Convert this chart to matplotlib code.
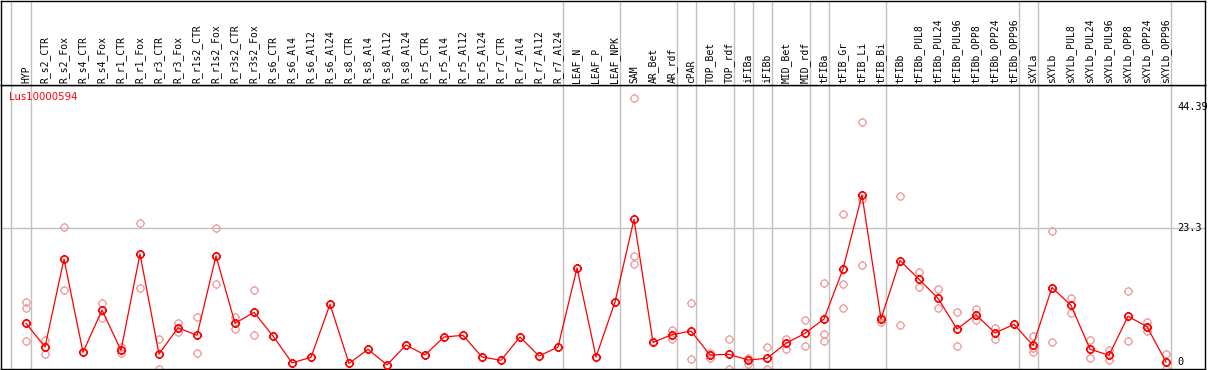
import numpy as np
import matplotlib
matplotlib.use("Agg")
import matplotlib.pyplot as plt
from matplotlib.path import Path

categories = ["HYP", "R_s2_CTR", "R_s2_Fox", "R_s4_CTR", "R_s4_Fox", "R_r1_CTR", "R_r1_Fox",
              "R_r3_CTR", "R_r3_Fox", "R_r1s2_CTR", "R_r1s2_Fox", "R_r3s2_CTR", "R_r3s2_Fox",
              "R_s6_CTR", "R_s6_Al4", "R_s6_Al12", "R_s6_Al24", "R_s8_CTR", "R_s8_Al4",
              "R_s8_Al12", "R_s8_Al24", "R_r5_CTR", "R_r5_Al4", "R_r5_Al12", "R_r5_Al24",
              "R_r7_CTR", "R_r7_Al4", "R_r7_Al12", "R_r7_Al24", "LEAF_N", "LEAF_P", "LEAF_NPK",
              "SAM", "AR_Bet", "AR_rdf", "cPAR", "TOP_Bet", "TOP_rdf", "iFIBa", "iFIBb",
              "MID_Bet", "MID_rdf", "tFIBa", "tFIB_Gr", "tFIB_Li", "tFIB_Bi", "tFIBb",
              "tFIBb_PUL8", "tFIBb_PUL24", "tFIBb_PUL96", "tFIBb_OPP8", "tFIBb_OPP24",
              "tFIBb_OPP96", "sXYLa", "sXYLb", "sXYLb_PUL8", "sXYLb_PUL24", "sXYLb_PUL96",
              "sXYLb_OPP8", "sXYLb_OPP24", "sXYLb_OPP96"]

main_values = [6.78, 2.66, 17.96, 1.74, 9.09, 2.09, 18.83, 1.44, 6.0, 4.7, 18.48, 6.78, 8.69,
               4.57, -0.1, 0.87, 10.08, -0.2, 2.26, -0.45, 3.0, 1.27, 4.4, 4.69, 0.92,
               0.35, 4.4, 1.1, 2.66, 16.4, 0.92, 10.49, 24.86, 3.47, 4.8, 5.44, 1.27, 1.39,
               0.4, 0.69, 3.3, 5.04, 7.53, 16.22, 29.1, 7.53, 17.7, 14.43, 11.13, 5.79, 8.28,
               5.1, 6.6, 2.95, 13.0, 9.9, 2.3, 1.21, 8.0, 6.19, 0.05]

nan = np.nan
rep1 = [10.5, 3.88, 23.47, nan, 10.3, 2.7, 24.3, 4.05, 6.9, 7.8, 23.3, 7.9, 12.5,
        nan, nan, nan, nan, nan, nan, nan, nan, nan, nan, nan, nan,
        nan, nan, nan, nan, nan, nan, nan, 45.9, nan, 5.67, 10.3, 1.67, 4.05,
        0.8, 2.6, 4.1, 7.36, 13.79, 25.7, 41.7, 6.95, 29.0, 15.65, 12.7, 8.69, 9.32,
        5.96, nan, 4.5, 22.78, 11.1, 3.88, 2.14, 12.34, 7.0, 1.39]
rep2 = [9.4, 1.44, 12.57, nan, 7.7, 1.6, 13.0, -1.2, 5.2, 1.56, 13.56, 5.84, 4.7,
        nan, nan, nan, nan, nan, nan, nan, nan, nan, nan, nan, nan,
        nan, nan, nan, nan, nan, nan, nan, 18.5, nan, 4.05, 0.57, 0.7, -1.2,
        -0.3, -1.2, 2.37, 2.83, 4.92, 13.56, 28.4, 7.9, 6.43, 13.1, 9.39, 2.83, 7.4,
        4.1, nan, 2.43, 3.47, 8.6, 0.7, 0.35, 3.65, 5.5, -1.1]
rep3 = [3.65, nan, nan, nan, nan, nan, nan, nan, nan, nan, nan, nan, nan,
        nan, nan, nan, nan, nan, nan, nan, nan, nan, nan, nan, nan,
        nan, nan, nan, nan, nan, nan, nan, 17.04, nan, nan, nan, nan, nan,
        nan, nan, nan, nan, 3.7, 9.39, 16.87, nan, nan, nan, nan, nan, nan,
        nan, nan, 1.85, nan, nan, nan, nan, nan, nan, nan]

y_ticks = [0, 23.3, 44.39]
y_tick_labels = ["0", "23.3", "44.39"]
gene_name = "Lus10000594"

# ---- layout (pixels) ----
W, H = 1209, 370
dpi = 100
left_px, right_px = 1, 1205
header_bottom_px = 85
bottom_px = 369
x0_px, dx_px = 26, 19
y0_px, py_per_unit = 362.3, 5.751

fig = plt.figure(figsize=(W / dpi, H / dpi), dpi=dpi)
ax = fig.add_axes([left_px / W, (H - bottom_px) / H, (right_px - left_px) / W,
                   (bottom_px - header_bottom_px) / H])
hax = fig.add_axes([left_px / W, (H - header_bottom_px) / H, (right_px - left_px) / W,
                    (header_bottom_px - 0.5) / H], sharex=ax)

xmin = (left_px - x0_px) / dx_px
xmax = (right_px - x0_px) / dx_px
ymin = (y0_px - bottom_px) / py_per_unit
ymax = (y0_px - header_bottom_px) / py_per_unit
ax.set_xlim(xmin, xmax)
ax.set_ylim(ymin, ymax)
hax.set_ylim(0, 1)

for a in (ax, hax):
    a.set_xticks([])
    a.set_yticks([])
    for s in a.spines.values():
        s.set_color("black")
        s.set_linewidth(1.0)

# separators
sep_positions = [-0.8, 0.25, 28.25, 31.25, 34.25, 35.25, 37.25, 38.25, 39.25, 41.25,
                 42.25, 45.25, 52.25, 53.25, 60.25]
for xp in sep_positions:
    ax.axvline(xp, color="#c0c0c0", lw=1.0, zorder=0.5)
    hax.axvline(xp, color="#c0c0c0", lw=1.0, zorder=0.5)

ax.axhline(23.3, color="#c0c0c0", lw=1.0, zorder=0.5)

# custom marker: circle with 4 small ticks
circ = Path.circle((0, 0), 1.0)
ticks = Path([(0, 1.0), (0, 1.3), (0, -1.0), (0, -1.3), (1.0, 0), (1.3, 0), (-1.0, 0), (-1.3, 0)],
             [Path.MOVETO, Path.LINETO] * 4)
mpath = Path.make_compound_path(circ, ticks)

x = np.arange(len(categories))
for rep in (rep1, rep2, rep3):
    ax.plot(x, rep, linestyle="none", marker=mpath, markersize=6.6, markerfacecolor="none",
            markeredgecolor="#ee9a9a", markeredgewidth=0.9, zorder=2)

ax.plot(x, main_values, color="#ff0000", lw=0.9, zorder=3)
ax.plot(x, main_values, linestyle="none", marker=mpath, markersize=6.6, markerfacecolor="none",
        markeredgecolor="#ff0000", markeredgewidth=1.2, zorder=4)

# header labels
for i, lab in enumerate(categories):
    hax.text(i, 2 / header_bottom_px, lab, rotation=90, ha="center", va="bottom",
             fontsize=7.0, family="DejaVu Sans Mono", color="black")

# right-side value labels
for v, lab in zip(y_ticks, y_tick_labels):
    ax.text((1177 - x0_px) / dx_px, v, lab, ha="left", va="center", fontsize=7.4,
            family="DejaVu Sans Mono", color="black", zorder=5)

fig.text(9 / W, 1 - 97 / H, gene_name, color="#ff0000", fontsize=7.3, ha="left", va="center")

fig.savefig("out.png", dpi=dpi)
